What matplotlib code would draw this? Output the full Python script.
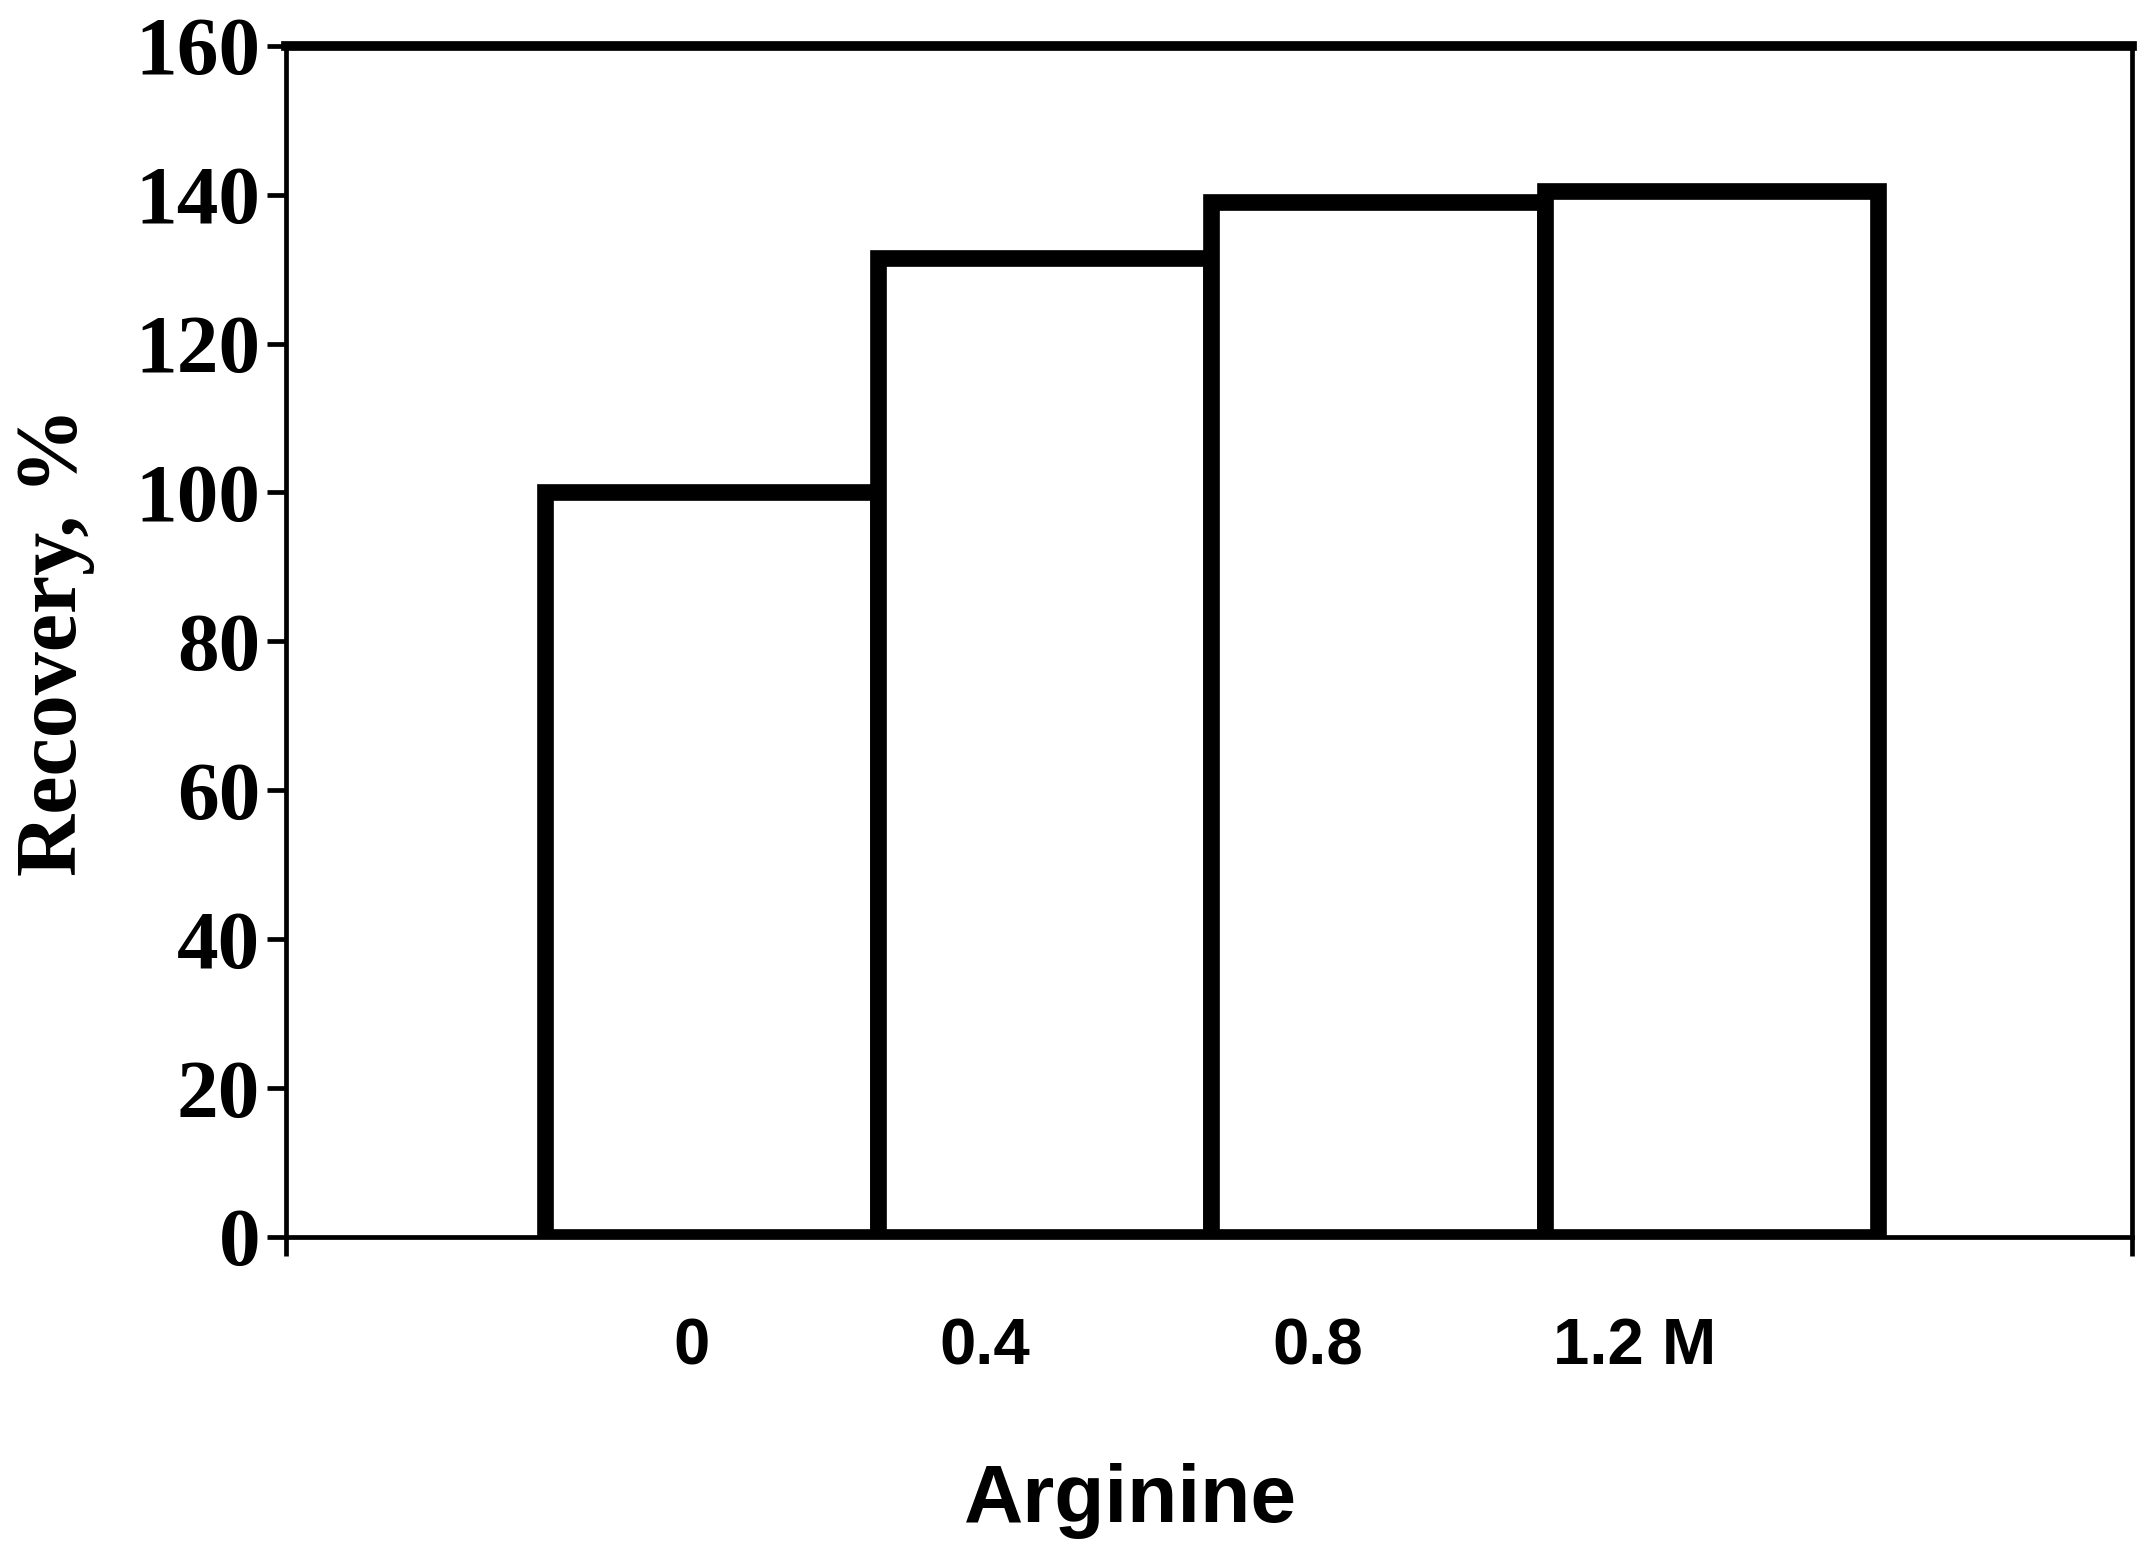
import numpy as np
import matplotlib
matplotlib.use('Agg')
import matplotlib.pyplot as plt
from matplotlib import ticker

# data
categories = ['0', '0.4', '0.8', '1.2 M']
recovery = [100, 131.5, 139, 140.5]
y_ticks = [0, 20, 40, 60, 80, 100, 120, 140, 160]

serif = ['Liberation Serif', 'DejaVu Serif']
sans = ['Liberation Sans', 'DejaVu Sans']

fig = plt.figure(figsize=(21.54, 15.59), dpi=100)
ax = fig.add_axes([0.133, 0.2066, 0.857, 0.764])

x = np.arange(len(categories))
ax.bar(x, recovery, width=1.0, color='white', edgecolor='black',
       linewidth=12, joinstyle='miter', zorder=3)

ax.set_xlim(-1.277, 4.265)
ax.set_ylim(0, 160)

# spines
for side in ['left', 'right', 'bottom']:
    ax.spines[side].set_linewidth(3.4)
ax.spines['top'].set_linewidth(7)

# y axis
ax.set_yticks(y_ticks)
ax.yaxis.set_major_formatter(ticker.FuncFormatter(lambda y, p: '%d' % y))
ax.tick_params(axis='y', direction='out', length=14, width=3.4, pad=5,
               labelsize=60)
for lab in ax.get_yticklabels():
    lab.set_family(serif)
    lab.set_fontweight('bold')

# x axis: labels sit a bit left of bar centres, no tick marks under them
label_shift = np.array([-0.06, -0.18, -0.18, -0.23])
ax.set_xticks(x + label_shift)
ax.set_xticklabels(categories)
ax.tick_params(axis='x', which='major', length=0, pad=58, labelsize=47)
for lab in ax.get_xticklabels():
    lab.set_family(sans)
    lab.set_fontweight('bold')
ax.set_xticks(ax.get_xlim(), minor=True)
ax.tick_params(axis='x', which='minor', direction='out', length=14, width=3.4)

ax.set_ylabel('Recovery, %', fontsize=62, fontweight='bold', family=serif)
ax.yaxis.set_label_coords(-0.104, 0.5)
ax.set_xlabel('Arginine', fontsize=59, fontweight='bold', family=sans)
ax.xaxis.set_label_coords(0.457, -0.19)

fig.savefig('out.png', dpi=100, facecolor='white')
